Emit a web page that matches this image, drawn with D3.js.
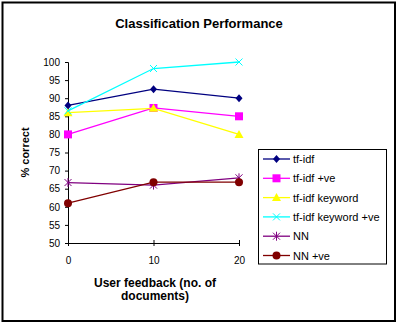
<!DOCTYPE html>
<html>
<head>
<meta charset="utf-8">
<script src="https://cdn.jsdelivr.net/npm/d3@7"></script>
<style>
  body { margin: 0; background: #fff; }
  svg { display: block; font-family: Arial, "Liberation Sans", sans-serif; }
</style>
</head>
<body>
<div id="chart"></div>
<script>
// feedback sizes on the x axis
const feedback = [0, 10, 20];

// series names, colours and marker shapes
const seriesNames = ['tf-idf', 'tf-idf +ve', 'tf-idf keyword', 'tf-idf keyword +ve', 'NN', 'NN +ve'];
const seriesColors = ['#000080', '#ff00ff', '#ffff00', '#00ffff', '#800080', '#800000'];
const seriesMarkers = ['diamond', 'square', 'triangle', 'cross', 'star', 'circle'];

// % correct for each series at 0, 10, 20 documents
const tfidf = [88, 92.5, 90];
const tfidfVe = [80, 87.3, 85];
const tfidfKeyword = [86, 87.2, 80];
const tfidfKeywordVe = [86.5, 98.2, 100];
const nn = [66.7, 66, 68];
const nnVe = [61, 66.8, 66.8];
const seriesValues = [tfidf, tfidfVe, tfidfKeyword, tfidfKeywordVe, nn, nnVe];

const yTicks = [50, 55, 60, 65, 70, 75, 80, 85, 90, 95, 100];

const width = 398, height = 325;
const plot = { left: 68, right: 239, top: 62, bottom: 243 };

const svg = d3.select('#chart').append('svg')
  .attr('width', width)
  .attr('height', height);

// outer frame
svg.append('rect')
  .attr('x', 2.5).attr('y', 2.5)
  .attr('width', 392.5).attr('height', 318.5)
  .attr('fill', '#fff')
  .attr('stroke', '#000')
  .attr('stroke-width', 2);

svg.append('text')
  .attr('x', 199).attr('y', 28)
  .attr('text-anchor', 'middle')
  .style('font-size', '13px')
  .style('font-weight', 'bold')
  .text('Classification Performance');

const x = d3.scaleLinear().domain([0, 20]).range([plot.left, plot.right]);
const y = d3.scaleLinear().domain([50, 100]).range([plot.bottom, plot.top]);

// y axis
const yAxis = svg.append('g')
  .attr('transform', `translate(${plot.left},0)`)
  .call(d3.axisLeft(y).tickValues(yTicks).tickSize(3).tickPadding(5));
yAxis.select('.domain').attr('stroke', '#000');
yAxis.selectAll('text').style('font-size', '10px').attr('fill', '#000');

// x axis with ticks crossing the line
const xAxis = svg.append('g')
  .attr('transform', `translate(0,${plot.bottom})`)
  .call(d3.axisBottom(x).tickValues(feedback).tickSize(0).tickPadding(0).tickSizeOuter(0));
xAxis.select('.domain').attr('stroke', '#000');
xAxis.selectAll('.tick line').attr('y1', -3).attr('y2', 3).attr('stroke', '#000');
xAxis.selectAll('text').attr('y', 14).style('font-size', '10px').attr('fill', '#000');

svg.append('text')
  .attr('transform', `translate(29,${(plot.top + plot.bottom) / 2}) rotate(-90)`)
  .attr('text-anchor', 'middle')
  .style('font-size', '11px')
  .style('font-weight', 'bold')
  .text('% correct');

const xTitle = svg.append('text')
  .attr('text-anchor', 'middle')
  .style('font-size', '12px')
  .style('font-weight', 'bold');
xTitle.append('tspan').attr('x', 155).attr('y', 287).text('User feedback (no. of');
xTitle.append('tspan').attr('x', 155).attr('y', 300).text('documents)');

function drawMarker(g, type, color, cx, cy) {
  if (type === 'diamond') {
    g.append('path')
      .attr('d', `M${cx},${cy - 4}L${cx + 3.5},${cy}L${cx},${cy + 4}L${cx - 3.5},${cy}Z`)
      .attr('fill', color);
  } else if (type === 'square') {
    g.append('rect').attr('x', cx - 4).attr('y', cy - 4)
      .attr('width', 8).attr('height', 8).attr('fill', color);
  } else if (type === 'triangle') {
    g.append('path')
      .attr('d', `M${cx},${cy - 4.5}L${cx + 4.5},${cy + 3.5}L${cx - 4.5},${cy + 3.5}Z`)
      .attr('fill', color);
  } else if (type === 'cross') {
    g.append('path')
      .attr('d', `M${cx - 3.5},${cy - 3.5}L${cx + 3.5},${cy + 3.5}M${cx - 3.5},${cy + 3.5}L${cx + 3.5},${cy - 3.5}`)
      .attr('stroke', color).attr('stroke-width', 1).attr('fill', 'none');
  } else if (type === 'star') {
    g.append('path')
      .attr('d', `M${cx - 3.5},${cy - 3.5}L${cx + 3.5},${cy + 3.5}M${cx - 3.5},${cy + 3.5}L${cx + 3.5},${cy - 3.5}M${cx},${cy - 4.5}L${cx},${cy + 4.5}`)
      .attr('stroke', color).attr('stroke-width', 1).attr('fill', 'none');
  } else {
    g.append('circle').attr('cx', cx).attr('cy', cy).attr('r', 4).attr('fill', color);
  }
}

const line = d3.line()
  .x((d, i) => x(feedback[i]))
  .y(d => y(d));

const seriesG = svg.append('g');
seriesValues.forEach((vals, s) => {
  const g = seriesG.append('g');
  g.append('path')
    .attr('d', line(vals))
    .attr('fill', 'none')
    .attr('stroke', seriesColors[s])
    .attr('stroke-width', 1.3);
  vals.forEach((v, i) => drawMarker(g, seriesMarkers[s], seriesColors[s], x(feedback[i]), y(v)));
});

// legend
const legend = svg.append('g');
legend.append('rect')
  .attr('x', 258.5).attr('y', 149.5)
  .attr('width', 128).attr('height', 114.5)
  .attr('fill', '#fff')
  .attr('stroke', '#000')
  .attr('stroke-width', 1);

seriesNames.forEach((name, s) => {
  const ly = 159 + s * 19.3;
  legend.append('line')
    .attr('x1', 263).attr('x2', 290)
    .attr('y1', ly).attr('y2', ly)
    .attr('stroke', seriesColors[s])
    .attr('stroke-width', 1.3);
  drawMarker(legend, seriesMarkers[s], seriesColors[s], 276.5, ly);
  legend.append('text')
    .attr('x', 293).attr('y', ly + 4)
    .style('font-size', '11px')
    .text(name);
});
</script>
</body>
</html>
